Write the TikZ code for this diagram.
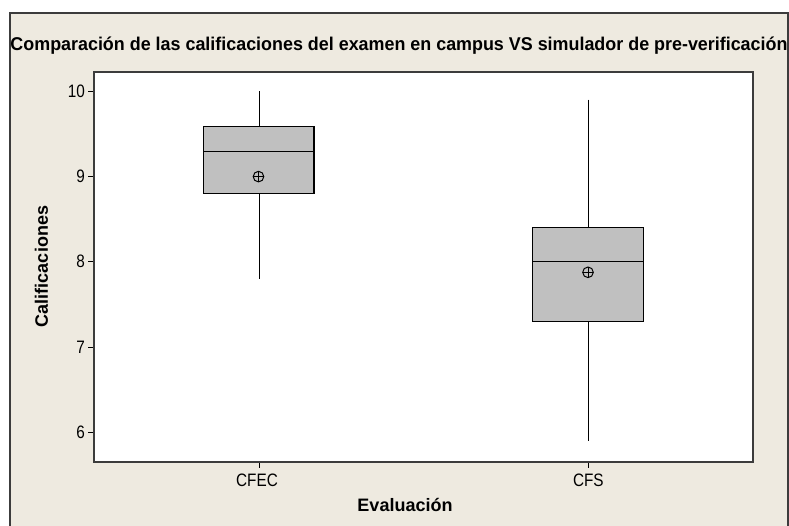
\documentclass[tikz,border=0pt]{standalone}
\usepackage{fontspec}
\setmainfont{Liberation Sans}
\newfontfamily\tickfont{Liberation Sans}[FakeStretch=0.85]
\definecolor{bgbeige}{RGB}{238,234,224}
\definecolor{boxgray}{RGB}{192,192,192}
\definecolor{framegray}{RGB}{60,60,60}
\begin{document}
\begin{tikzpicture}[x=1pt,y=-1pt,
  boxst/.style={draw=black,fill=boxgray,line width=1.1pt},
  whisk/.style={draw=black,line width=1pt},
  tickst/.style={draw=black,line width=1pt},
  ticklab/.style={font=\tickfont\fontsize{18}{21}\selectfont,inner sep=0pt},
  axlab/.style={font=\bfseries\fontsize{18}{21}\selectfont,inner sep=0pt},
  meanst/.style={draw=black,line width=1pt}]
\useasboundingbox (0,0) rectangle (789,525);
\fill[white] (0,0) rectangle (789,525);
% outer panel
\fill[bgbeige] (10,13) rectangle (788,530);
\draw[framegray,line width=1.2pt] (10,530) -- (10,13) -- (788,13) -- (788,530);
% title
\node[inner sep=0pt,anchor=center] (title) at (399,45.5)
  {\resizebox{777pt}{\height}{\bfseries\fontsize{18.5}{21}\selectfont Comparación de las calificaciones del examen en campus VS simulador de pre-verificación}};
% plot area
\fill[white] (94,72) rectangle (752.7,462);
% y ticks
\foreach \v/\yy in {10/91,9/176.3,8/261.7,7/347,6/432.3}{
  \draw[tickst] (88,\yy) -- (94,\yy);
  \node[ticklab,anchor=east] (yl\v) at (85,\yy) {\v};
}
% x ticks
\draw[tickst] (259,462) -- (259,468);
\draw[tickst] (588.3,462) -- (588.3,468);
\node[ticklab,anchor=center] (xl1) at (257,480) {CFEC};
\node[ticklab,anchor=center] (xl2) at (588.3,480) {CFS};
% axis labels
\node[axlab,rotate=90,anchor=center] (ylab) at (41.5,266.5) {Calificaciones};
\node[axlab,anchor=center] (xlab) at (405,504.5) {Evaluación};
% CFEC box
\draw[whisk] (259,91) -- (259,126.5);
\draw[whisk] (259,193.4) -- (259,278.7);
\draw[boxst] (203.5,126.5) rectangle (314,193.4);
\draw[whisk] (203.5,151.3) -- (314,151.3);
\draw[meanst] (258.5,176.6) circle (5.3);
\draw[meanst] (253.2,176.6) -- (263.8,176.6) (258.5,171.3) -- (258.5,181.9);
% CFS box
\draw[whisk] (588.3,99.5) -- (588.3,227.6);
\draw[whisk] (588.3,321.2) -- (588.3,441.3);
\draw[boxst] (532.8,227.6) rectangle (643.5,321.2);
\draw[whisk] (532.8,261.7) -- (643.5,261.7);
\draw[meanst] (588,272.3) circle (5.3);
\draw[meanst] (582.7,272.3) -- (593.3,272.3) (588,267) -- (588,277.6);
% plot frame
\draw[framegray,line width=1.6pt] (94,72) rectangle (752.7,462);
\end{tikzpicture}
\end{document}
